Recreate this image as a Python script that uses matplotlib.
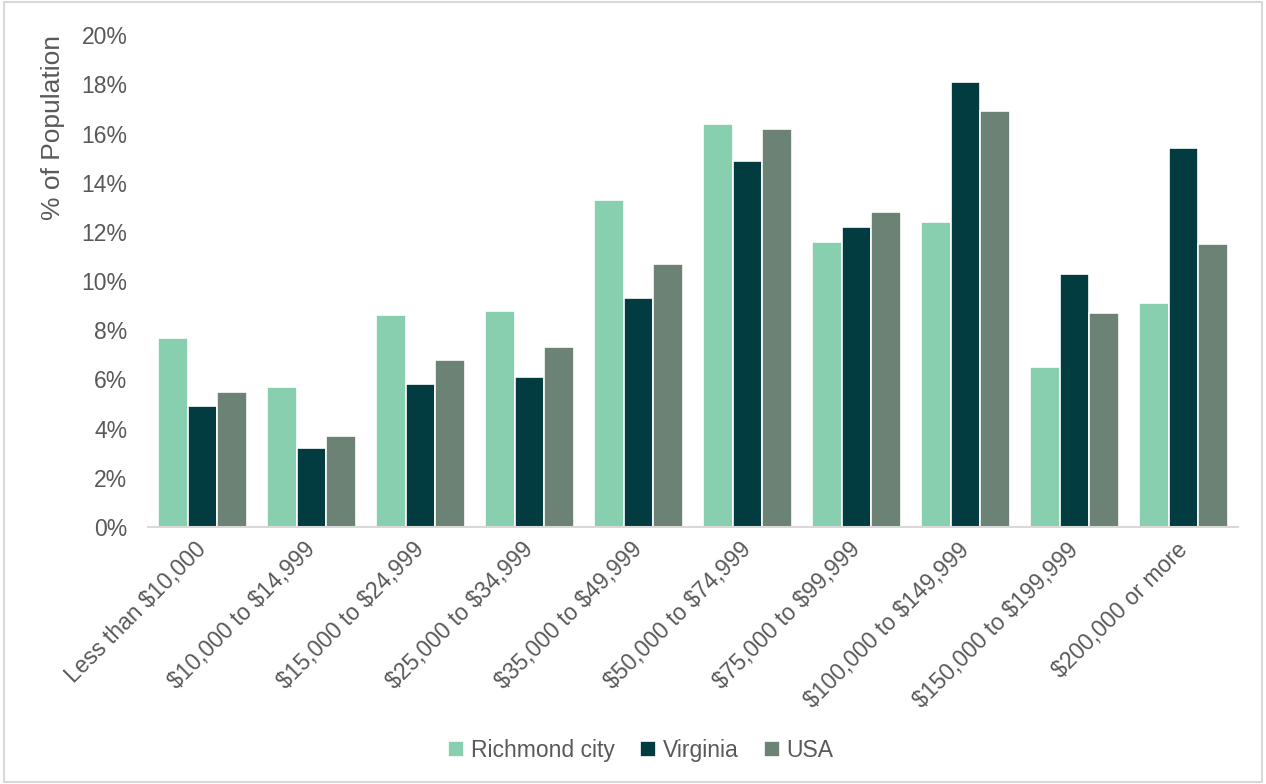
import numpy as np
import matplotlib.pyplot as plt
from matplotlib.patches import Rectangle

plt.rcParams['font.family'] = ['Liberation Sans', 'DejaVu Sans']
plt.rcParams['text.parse_math'] = False

categories = ['Less than $10,000', '$10,000 to $14,999', '$15,000 to $24,999',
              '$25,000 to $34,999', '$35,000 to $49,999', '$50,000 to $74,999',
              '$75,000 to $99,999', '$100,000 to $149,999', '$150,000 to $199,999',
              '$200,000 or more']
richmond = [7.7, 5.7, 8.6, 8.8, 13.3, 16.4, 11.6, 12.4, 6.5, 9.1]
virginia = [4.9, 3.2, 5.8, 6.1, 9.3, 14.9, 12.2, 18.1, 10.3, 15.4]
usa = [5.5, 3.7, 6.8, 7.3, 10.7, 16.2, 12.8, 16.9, 8.7, 11.5]

series = [('Richmond city', richmond, '#88CFB0'),
          ('Virginia', virginia, '#023C40'),
          ('USA', usa, '#6B8275')]

txt = '#595959'

fig = plt.figure(figsize=(12.66, 7.84), dpi=100)
ax = fig.add_axes([0.117, 0.328, 0.861, 0.627])

x = np.arange(len(categories))
w = 0.272
for i, (name, vals, col) in enumerate(series):
    ax.bar(x + (i - 1) * w, vals, width=w, color=col, edgecolor='white',
           linewidth=1.2, label=name)

ax.set_xlim(-0.5, len(categories) - 0.5)
ax.set_ylim(0, 20)
ax.set_yticks(range(0, 21, 2))
ax.set_yticklabels([f'{v}%' for v in range(0, 21, 2)])
ax.set_xticks(x)
ax.set_xticklabels(categories, rotation=45, ha='right', va='center',
                   rotation_mode='anchor')
ax.tick_params(axis='both', length=0, colors=txt, labelsize=16.5)
ax.tick_params(axis='y', pad=15)
ax.tick_params(axis='x', pad=14)
for s in ['top', 'right', 'left']:
    ax.spines[s].set_visible(False)
ax.spines['bottom'].set_color('#D9D9D9')
ax.spines['bottom'].set_linewidth(1.5)
ax.set_ylabel('% of Population', fontsize=19, color=txt, loc='top', labelpad=12)

leg = fig.legend(loc='center', bbox_to_anchor=(0.506, 0.043), ncol=3, frameon=False,
                 fontsize=16.5, handlelength=0.7, handleheight=0.7,
                 handletextpad=0.3, columnspacing=1.1)
for t in leg.get_texts():
    t.set_color(txt)

fig.add_artist(Rectangle((0.003, 0.003), 0.994, 0.994, transform=fig.transFigure,
                         fill=False, edgecolor='#D9D9D9', linewidth=1.5))

fig.savefig('out.png', dpi=100, facecolor='white')
